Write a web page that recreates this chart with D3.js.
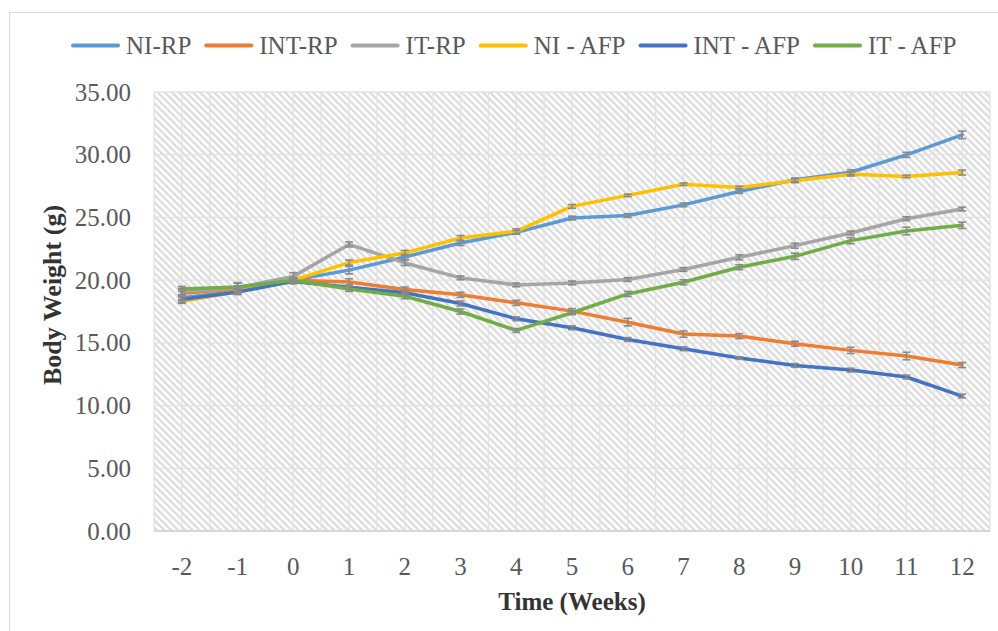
<!DOCTYPE html>
<html><head><meta charset="utf-8">
<script src="https://cdn.jsdelivr.net/npm/d3@7/dist/d3.min.js"></script>
<style>
body{margin:0;background:#fff;}
svg{display:block;font-family:"Liberation Serif","Times New Roman",serif;}
</style></head>
<body>
<svg id="chart" width="998" height="631"></svg>
<script>
const weeks = [-2,-1,0,1,2,3,4,5,6,7,8,9,10,11,12];
const seriesNames = ["NI-RP","INT-RP","IT-RP","NI - AFP","INT - AFP","IT - AFP"];
const seriesColors = ["#5B9BD5","#ED7D31","#A5A5A5","#FFC000","#4472C4","#70AD47"];
const niRP   = [18.6, 19.1, 20.0, 20.8, 21.85, 22.96, 23.81, 24.95, 25.15, 26.0, 27.07, 28.0, 28.6, 29.99, 31.58];
const intRP  = [18.95, 19.3, 20.0, 19.86, 19.25, 18.83, 18.19, 17.53, 16.65, 15.7, 15.54, 14.93, 14.4, 13.95, 13.23];
const itRP   = [19.1, 19.4, 20.3, 22.85, 21.37, 20.18, 19.62, 19.78, 20.05, 20.85, 21.82, 22.75, 23.76, 24.9, 25.67];
const niAFP  = [18.3, 19.1, 20.0, 21.4, 22.17, 23.36, 23.89, 25.88, 26.76, 27.65, 27.39, 27.92, 28.45, 28.27, 28.58];
const intAFP = [18.45, 19.05, 19.9, 19.43, 18.99, 18.14, 16.92, 16.2, 15.27, 14.53, 13.79, 13.2, 12.83, 12.28, 10.76];
const itAFP  = [19.3, 19.45, 19.99, 19.3, 18.72, 17.5, 15.99, 17.4, 18.9, 19.83, 21.03, 21.9, 23.15, 23.92, 24.37];
const errNiRP   = [0.2,0.2,0.2,0.3,0.2,0.2,0.15,0.15,0.15,0.15,0.15,0.15,0.2,0.2,0.3];
const errIntRP  = [0.3,0.25,0.2,0.25,0.2,0.2,0.2,0.2,0.3,0.25,0.2,0.2,0.25,0.3,0.2];
const errItRP   = [0.25,0.35,0.3,0.2,0.2,0.15,0.15,0.15,0.15,0.15,0.2,0.2,0.15,0.15,0.15];
const errNiAFP  = [0.15,0.2,0.2,0.2,0.2,0.2,0.2,0.15,0.1,0.1,0.1,0.15,0.15,0.1,0.2];
const errIntAFP = [0.2,0.2,0.2,0.2,0.2,0.2,0.15,0.15,0.15,0.15,0.1,0.15,0.15,0.15,0.15];
const errItAFP  = [0.2,0.35,0.2,0.2,0.2,0.2,0.15,0.15,0.2,0.2,0.2,0.25,0.25,0.3,0.25];
const yTicks = [0,5,10,15,20,25,30,35];
const xTitle = "Time (Weeks)";
const yTitle = "Body Weight (g)";

const seriesValues = [niRP, intRP, itRP, niAFP, intAFP, itAFP];
const seriesErrors = [errNiRP, errIntRP, errItRP, errNiAFP, errIntAFP, errItAFP];
const series = seriesNames.map((n,i)=>({name:n, color:seriesColors[i],
  points: weeks.map((w,j)=>({w, v:seriesValues[i][j], e:seriesErrors[i][j]}))}));

const svg = d3.select("#chart");
const plot = {left:154, right:990, top:92, bottom:531};

svg.append("rect").attr("x",9.5).attr("y",12.5).attr("width",1000).attr("height",640)
  .attr("fill","#fff").attr("stroke","#d9d9d9").attr("stroke-width",1);

const defs = svg.append("defs");
const pat = defs.append("pattern").attr("id","hatch").attr("patternUnits","userSpaceOnUse")
  .attr("width",5).attr("height",5).attr("patternTransform","rotate(-45)");
pat.append("rect").attr("width",5).attr("height",5).attr("fill","#ffffff");
pat.append("rect").attr("x",0).attr("width",2.4).attr("height",5).attr("fill","#dcdcdc");

const x = d3.scaleBand().domain(weeks).range([plot.left, plot.right]).padding(0);
const bw = x.bandwidth();
const cx = w => x(w) + bw/2;
const y = d3.scaleLinear().domain([0,35]).range([plot.bottom, plot.top]);

svg.append("rect").attr("x",plot.left).attr("y",plot.top)
  .attr("width",plot.right-plot.left).attr("height",plot.bottom-plot.top)
  .attr("fill","url(#hatch)");

const g = svg.append("g");
const vpos = [];
weeks.forEach(w=>{ vpos.push(x(w)); vpos.push(cx(w)); });
vpos.push(plot.right);
g.selectAll("line.v").data(vpos).join("line")
  .attr("x1",d=>d).attr("x2",d=>d).attr("y1",plot.top).attr("y2",plot.bottom)
  .attr("stroke","#e2e2e2").attr("stroke-width",1.3);
g.selectAll("line.h").data(yTicks).join("line")
  .attr("x1",plot.left).attr("x2",plot.right).attr("y1",d=>y(d)).attr("y2",d=>y(d))
  .attr("stroke","#e2e2e2").attr("stroke-width",1.3);
svg.append("line").attr("x1",plot.left).attr("x2",plot.right)
  .attr("y1",y(0)).attr("y2",y(0)).attr("stroke","#d0d0d0").attr("stroke-width",1.5);

const yAxis = svg.append("g").attr("transform",`translate(${plot.left},0)`)
  .call(d3.axisLeft(y).tickValues(yTicks).tickFormat(d3.format(".2f")).tickSize(0).tickPadding(23));
yAxis.select(".domain").remove();
yAxis.selectAll("text").attr("font-size",25).attr("fill","#595959")
  .attr("font-family","Liberation Serif, Times New Roman, serif");

const xAxis = svg.append("g").attr("transform",`translate(0,${plot.bottom})`)
  .call(d3.axisBottom(x).tickSize(0).tickPadding(26));
xAxis.select(".domain").remove();
xAxis.selectAll("text").attr("font-size",25).attr("fill","#595959")
  .attr("font-family","Liberation Serif, Times New Roman, serif");

svg.append("text").attr("x",(plot.left+plot.right)/2).attr("y",610)
  .attr("text-anchor","middle").attr("font-size",25).attr("font-weight","bold")
  .attr("fill","#333").text(xTitle);
svg.append("text").attr("transform","translate(61,295) rotate(-90)")
  .attr("text-anchor","middle").attr("font-size",26).attr("font-weight","bold")
  .attr("fill","#333").text(yTitle);

const line = d3.line().x(d=>cx(d.w)).y(d=>y(d.v));
svg.append("g").selectAll("path").data(series).join("path")
  .attr("d",d=>line(d.points)).attr("fill","none")
  .attr("stroke",d=>d.color).attr("stroke-width",3.5)
  .attr("stroke-linejoin","round").attr("stroke-linecap","round");

const eb = svg.append("g").attr("stroke","#8a8a8a").attr("stroke-width",1.6);
series.forEach(s=>{
  const gg = eb.append("g");
  gg.selectAll("line.s").data(s.points).join("line")
    .attr("x1",d=>cx(d.w)).attr("x2",d=>cx(d.w)).attr("y1",d=>y(d.v-d.e)).attr("y2",d=>y(d.v+d.e));
  gg.selectAll("line.t").data(s.points).join("line")
    .attr("x1",d=>cx(d.w)-4).attr("x2",d=>cx(d.w)+4).attr("y1",d=>y(d.v+d.e)).attr("y2",d=>y(d.v+d.e));
  gg.selectAll("line.b").data(s.points).join("line")
    .attr("x1",d=>cx(d.w)-4).attr("x2",d=>cx(d.w)+4).attr("y1",d=>y(d.v-d.e)).attr("y2",d=>y(d.v-d.e));
});

const leg = svg.append("g");
let lx = 73;
series.forEach(s=>{
  leg.append("line").attr("x1",lx).attr("x2",lx+45).attr("y1",45.5).attr("y2",45.5)
    .attr("stroke",s.color).attr("stroke-width",4).attr("stroke-linecap","round");
  const t = leg.append("text").attr("x",lx+53).attr("y",54).attr("font-size",25)
    .attr("fill","#595959").text(s.name);
  lx = lx + 53 + t.node().getComputedTextLength() + 15;
});
</script>
</body></html>
